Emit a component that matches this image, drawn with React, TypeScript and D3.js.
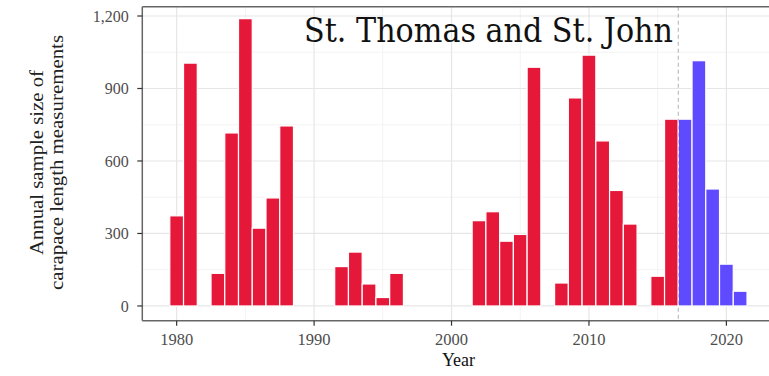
import React from "react";
import * as d3 from "d3";

const years = [1980, 1981, 1983, 1984, 1985, 1986, 1987, 1988, 1992, 1993, 1994, 1995, 1996, 2002, 2003, 2004, 2005, 2006, 2008, 2009, 2010, 2011, 2012, 2013, 2015, 2016];
const samples = [373, 1005, 135, 716, 1189, 322, 447, 745, 163, 223, 91, 35, 135, 353, 390, 268, 296, 988, 95, 861, 1038, 683, 478, 339, 123, 773];
const projYears = [2017, 2018, 2019, 2020, 2021];
const projSamples = [773, 1015, 484, 173, 61];
const xTicks = [1980, 1990, 2000, 2010, 2020];
const xMinor = [1985, 1995, 2005, 2015];
const yTicks = [0, 300, 600, 900, 1200];
const yMinor = [150, 450, 750, 1050];
const cutYear = 2016.5;
const title = "St. Thomas and St. John";

export default function App() {
  const W = 769, H = 376;
  const left = 142.3, top = 6.7, bottom = 320.7, right = 769;
  const x = d3.scaleLinear().domain([1977.5, 2023.1]).range([left, right]);
  const y = d3.scaleLinear().domain([-61, 1238.5]).range([bottom, top]);
  const fmt = d3.format(",");
  const serif = "'Liberation Serif', 'Times New Roman', serif";
  return (
    <svg width={W} height={H} style={{ position: "absolute", left: 0, top: 0, background: "#fff" }}>
      <rect x={0} y={0} width={W} height={H} fill="#fff" />
      {yMinor.map((v) => (
        <line key={"ym" + v} x1={left} x2={right} y1={y(v)} y2={y(v)} stroke="#F3F3F3" strokeWidth={1} />
      ))}
      {xMinor.map((v) => (
        <line key={"xm" + v} x1={x(v)} x2={x(v)} y1={top} y2={bottom} stroke="#F3F3F3" strokeWidth={1} />
      ))}
      {yTicks.map((v) => (
        <line key={"yg" + v} x1={left} x2={right} y1={y(v)} y2={y(v)} stroke="#E6E6E6" strokeWidth={1.2} />
      ))}
      {xTicks.map((v) => (
        <line key={"xg" + v} x1={x(v)} x2={x(v)} y1={top} y2={bottom} stroke="#E6E6E6" strokeWidth={1.2} />
      ))}
      {years.map((yr, i) => (
        <rect key={"b" + yr} x={x(yr - 0.5)} width={x(yr + 0.5) - x(yr - 0.5)} y={y(samples[i])} height={y(0) - y(samples[i])}
          fill="#E5183A" stroke="#fff" strokeWidth={1.2} />
      ))}
      {projYears.map((yr, i) => (
        <rect key={"p" + yr} x={x(yr - 0.5)} width={x(yr + 0.5) - x(yr - 0.5)} y={y(projSamples[i])} height={y(0) - y(projSamples[i])}
          fill="#604AFF" stroke="#fff" strokeWidth={1.2} />
      ))}
      <line x1={x(cutYear)} x2={x(cutYear)} y1={top} y2={bottom} stroke="#BDBDBD" strokeWidth={1.2} strokeDasharray="4,3" />
      <line x1={left} x2={left} y1={top} y2={bottom} stroke="#666" strokeWidth={1.5} />
      <line x1={left} x2={right} y1={top} y2={top} stroke="#666" strokeWidth={1.5} />
      <line x1={left} x2={right} y1={bottom} y2={bottom} stroke="#666" strokeWidth={1.5} />
      {yTicks.map((v) => (
        <g key={"yt" + v}>
          <line x1={left - 5} x2={left} y1={y(v)} y2={y(v)} stroke="#333" strokeWidth={1.2} />
          <text x={left - 13.5} y={y(v)} dy="0.35em" textAnchor="end" fontFamily={serif} fontSize={16} fill="#4D4D4D">{fmt(v)}</text>
        </g>
      ))}
      {xTicks.map((v) => (
        <g key={"xt" + v}>
          <line x1={x(v)} x2={x(v)} y1={bottom} y2={bottom + 5} stroke="#333" strokeWidth={1.2} />
          <text x={x(v)} y={345} textAnchor="middle" fontFamily={serif} fontSize={16.5} fill="#4D4D4D">{v}</text>
        </g>
      ))}
      <text x={458.5} y={365.5} textAnchor="middle" fontFamily={serif} fontSize={18} fill="#111">Year</text>
      <g transform={`translate(43, 162.5) rotate(-90)`}>
        <text x={0} y={0} textAnchor="middle" fontFamily={serif} fontSize={19} fill="#222" textLength={185} lengthAdjust="spacingAndGlyphs">Annual sample size of</text>
        <text x={0} y={20} textAnchor="middle" fontFamily={serif} fontSize={19} fill="#222" textLength={255} lengthAdjust="spacingAndGlyphs">carapace length measurements</text>
      </g>
      <text x={304} y={41.7} fontFamily="'DejaVu Serif', serif" fontSize={34} fill="#111" textLength={369} lengthAdjust="spacingAndGlyphs">{title}</text>
    </svg>
  );
}
